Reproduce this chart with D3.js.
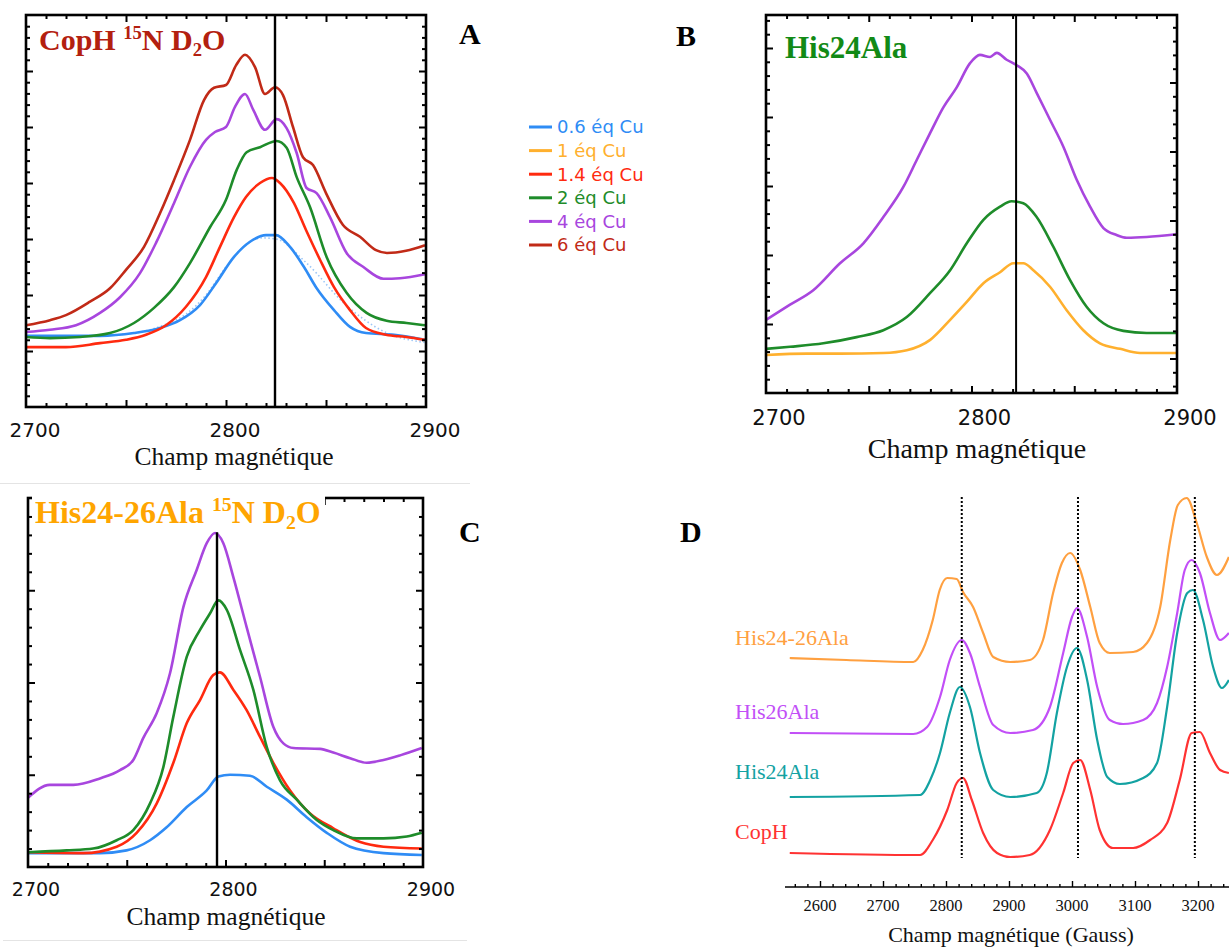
<!DOCTYPE html>
<html><head><meta charset="utf-8">
<script src="https://cdn.jsdelivr.net/npm/d3@7"></script>
<style>body{margin:0;background:#fff}svg{display:block}</style>
</head><body>
<svg id="c" width="1229" height="947"></svg>
<script>
// ---------- DATA ----------
const legendLabels = ["0.6 éq Cu","1 éq Cu","1.4 éq Cu","2 éq Cu","4 éq Cu","6 éq Cu"];
const legendColors = ["#2f8cf5","#ffb02e","#ff2a0f","#1e8c2a","#a846de","#c12a17"];

// Panel A : CopH 15N D2O (field G, intensity a.u.)
const A_eq6 = [[2700,1.46],[2712,1.55],[2720,1.64],[2732,1.88],[2742,2.12],[2750,2.45],[2759,2.86],[2767,3.46],[2774,4.05],[2782,4.77],[2789,5.48],[2794,5.7],[2800,5.75],[2805,6.1],[2809.5,6.29],[2814.5,6.07],[2819.5,5.59],[2824.5,5.71],[2828.5,5.57],[2833.5,5.0],[2838.5,4.46],[2843.5,4.32],[2850,3.82],[2858.5,3.25],[2867,3.04],[2875,2.8],[2880.5,2.75],[2890,2.79],[2899.5,2.89]];
const A_eq4 = [[2700,1.34],[2712,1.38],[2725,1.46],[2737,1.68],[2747,1.96],[2757,2.39],[2765,2.93],[2774,3.64],[2782,4.29],[2790,4.77],[2794.5,4.91],[2800,5.0],[2804.5,5.36],[2809.5,5.59],[2813.7,5.3],[2819.5,4.95],[2825.3,5.14],[2830.3,4.98],[2835.3,4.54],[2840.3,3.91],[2845.3,3.82],[2852,3.39],[2860.3,2.75],[2868.7,2.5],[2878.7,2.29],[2887,2.3],[2899.5,2.37]];
const A_eq2 = [[2700,1.25],[2712,1.23],[2727,1.25],[2742,1.32],[2754,1.5],[2764,1.77],[2774,2.14],[2782,2.57],[2792,3.21],[2800,3.7],[2805.3,4.23],[2810.3,4.55],[2817,4.64],[2825.3,4.75],[2830.3,4.63],[2835.3,4.11],[2842,3.57],[2850.3,2.68],[2860.3,2.04],[2870.3,1.68],[2880.3,1.54],[2890.3,1.5],[2899.5,1.46]];
const A_eq14 = [[2700,1.07],[2720,1.07],[2737,1.14],[2750,1.2],[2760,1.29],[2770,1.46],[2780,1.79],[2790,2.32],[2797,2.86],[2804,3.39],[2810,3.75],[2817,4.0],[2823,4.09],[2827,4.0],[2834,3.64],[2840,3.16],[2847,2.63],[2854,2.14],[2862,1.73],[2870,1.41],[2880,1.29],[2890,1.25],[2899.5,1.2]];
const A_eq06 = [[2700,1.27],[2720,1.27],[2737,1.27],[2754,1.32],[2767,1.41],[2777,1.55],[2787,1.82],[2795,2.21],[2804,2.68],[2812,2.95],[2820,3.07],[2825,3.07],[2832,2.86],[2839,2.5],[2845,2.14],[2854,1.73],[2862,1.43],[2870,1.32],[2884,1.29],[2899.5,1.2]];
const A_eq06b = [[2700,1.25],[2740,1.28],[2760,1.36],[2770,1.48],[2780,1.66],[2790,2.0],[2800,2.5],[2810,2.9],[2818,3.02],[2825,3.0],[2840,2.58],[2860,1.82],[2880,1.33],[2900,1.15]];
const A_line = 2824.5;

// Panel B : His24Ala
const B_eq4 = [[2700,1.06],[2711.7,1.28],[2723,1.49],[2736,1.88],[2747.4,2.17],[2757.1,2.55],[2766.9,2.99],[2773.4,3.38],[2779.9,3.77],[2786.3,4.14],[2792.8,4.43],[2799.3,4.78],[2804.1,4.9],[2809,4.87],[2812.3,4.93],[2817.1,4.83],[2822,4.75],[2826.9,4.63],[2831.7,4.35],[2838.2,3.96],[2844.7,3.57],[2851.2,3.09],[2857.7,2.7],[2864.2,2.39],[2870.6,2.29],[2875.5,2.25],[2885.2,2.26],[2899.8,2.3]];
const B_eq2 = [[2700,0.64],[2711.7,0.67],[2727.9,0.72],[2744.1,0.81],[2757.1,0.91],[2768.5,1.1],[2779.9,1.45],[2789.6,1.78],[2797.7,2.17],[2805.8,2.51],[2813.9,2.7],[2819.5,2.78],[2825.2,2.75],[2831.7,2.55],[2839.8,2.12],[2847.9,1.64],[2856,1.25],[2864.2,1.01],[2873.9,0.9],[2885.2,0.87],[2899.8,0.87]];
const B_eq1 = [[2700,0.55],[2719.8,0.57],[2736,0.57],[2757.1,0.58],[2768.5,0.62],[2779.9,0.77],[2789.6,1.06],[2797.7,1.32],[2805.8,1.59],[2813.9,1.75],[2820.4,1.88],[2825.2,1.88],[2830.1,1.78],[2838.2,1.54],[2846.3,1.2],[2854.4,0.91],[2862.5,0.72],[2872.3,0.64],[2882,0.58],[2899.8,0.58]];
const B_line = 2821.7;

// Panel C : His24-26Ala 15N D2O
const C_eq4 = [[2700,0.75],[2711,0.89],[2723,0.89],[2736.4,0.96],[2746.6,1.05],[2753.3,1.16],[2758.4,1.4],[2765.2,1.67],[2771.9,2.1],[2778.7,2.82],[2785.4,3.22],[2790.5,3.51],[2794.7,3.62],[2798.9,3.51],[2804,3.14],[2810.7,2.6],[2817.5,2.06],[2824.2,1.52],[2829.3,1.34],[2834.4,1.29],[2847.9,1.28],[2854.6,1.24],[2863.1,1.18],[2871.5,1.13],[2880,1.16],[2888.4,1.21],[2899.4,1.29]];
const C_eq2 = [[2700,0.16],[2719.6,0.18],[2733,0.2],[2744.9,0.29],[2753.3,0.4],[2761.8,0.69],[2768.5,1.08],[2773.6,1.63],[2780.4,2.28],[2787.1,2.57],[2792.2,2.75],[2796.4,2.89],[2800.6,2.79],[2807.4,2.35],[2814.1,1.92],[2820.9,1.3],[2827.6,0.94],[2836.1,0.73],[2846.2,0.51],[2854.6,0.4],[2866.5,0.31],[2880,0.31],[2891.8,0.33],[2899.4,0.37]];
const C_eq14 = [[2700,0.16],[2728,0.15],[2744.9,0.22],[2755,0.37],[2765.2,0.69],[2773.6,1.13],[2780.4,1.56],[2787.1,1.81],[2793.8,2.08],[2797.2,2.11],[2804,1.92],[2810.7,1.7],[2817.5,1.41],[2824.2,1.13],[2832.7,0.83],[2842.8,0.58],[2854.6,0.42],[2868.2,0.27],[2880,0.22],[2899.4,0.2]];
const C_eq06 = [[2700,0.15],[2736.4,0.15],[2749.9,0.18],[2761.8,0.29],[2770.2,0.43],[2780.4,0.65],[2790.5,0.83],[2796.4,0.98],[2802.3,1.0],[2812.4,0.99],[2820.9,0.87],[2831,0.73],[2841.1,0.54],[2851.3,0.37],[2863.1,0.22],[2880,0.15],[2899.4,0.13]];
const C_line = 2795.7;

// Panel D : stacked spectra
const D_names = ["His24-26Ala","His26Ala","His24Ala","CopH"];
const D_colors = ["#ffa040","#c24ff7","#13a2a2","#ff3232"];
const D_his2426 = [[2552,53],[2642,52.5],[2748,52],[2763,55],[2779,62.5],[2790,70],[2802,73],[2817,72.75],[2827,69.5],[2843,65.75],[2859,59.25],[2875,53.25],[2902,52],[2933,52.5],[2954,57.5],[2970,69.25],[2984,76.75],[2997,79.25],[3013,75],[3029,65.75],[3044,56.75],[3060,54.25],[3097,54.5],[3119,56.75],[3140,65.75],[3156,82.5],[3168,91.25],[3182,93],[3198,86.75],[3214,78.25],[3230,73.75],[3249,78.25]];
const D_his26 = [[2552,34.25],[2748,34],[2770,35.75],[2790.5,43.25],[2806,52.5],[2825,57.5],[2838,54.25],[2854,45.75],[2875,36.25],[2902,34.25],[2938,35],[2965,40.75],[2986,54.25],[3000,63.25],[3008,65.5],[3024,58.25],[3040,45.75],[3060,37.5],[3081,36.5],[3113,37.5],[3135,41.75],[3151,50.75],[3167,64.25],[3179,75],[3190,77.5],[3203,74.25],[3219,64.25],[3235,57.5],[3249,59.25]];
const D_his24 = [[2552,18.25],[2759,18.75],[2775,22.5],[2790.5,29.25],[2806,39.25],[2822,45.75],[2838,40.75],[2854,29.25],[2875,20],[2902,18.25],[2944,19.25],[2960,24.25],[2976,39.25],[2992,50.75],[3008,55.5],[3024,47.5],[3040,32.5],[3056,23.25],[3076,21.5],[3113,23],[3135,26.75],[3151,40.75],[3167,59.25],[3183,69.25],[3192,70],[3208,62.5],[3224,50.75],[3238,45.5],[3249,47.5]];
const D_coph = [[2552,4.25],[2759,3.75],[2779,7.5],[2802,15],[2817,21.75],[2827,23],[2841,17.5],[2859,9.25],[2881,4.25],[2902,3.25],[2933,3.75],[2965,10],[2986,19.25],[3002,26.75],[3013,27.5],[3029,20],[3044,10],[3065,5.5],[3097,5.5],[3124,7.5],[3151,11.75],[3171,22.5],[3190,34.25],[3203,34.5],[3219,29.25],[3235,25],[3249,24.25]];
const D_lines = [2825, 3009.5, 3195];
const D_ticks = [2600,2700,2800,2900,3000,3100,3200];

const xTickLabels = [2700,2800,2900];

// ---------- DRAW ----------
const svg = d3.select("#c");
const serif = "'Liberation Serif','Times New Roman',serif";
const sans = "'DejaVu Sans',sans-serif";

// faint separators
svg.append("line").attr("x1",0).attr("x2",470).attr("y1",483.5).attr("y2",483.5).attr("stroke","#e4e4e4");
svg.append("line").attr("x1",3).attr("x2",467).attr("y1",940.5).attr("y2",940.5).attr("stroke","#e4e4e4");

function panel(cfg){
  const x = d3.scaleLinear().domain([2700,2900]).range([cfg.x0,cfg.x1]);
  const y = d3.scaleLinear().domain([0,cfg.ymax]).range([cfg.y0,cfg.y1]);
  const g = svg.append("g");
  const line = d3.line().x(d=>x(d[0])).y(d=>y(d[1])).curve(d3.curveMonotoneX);
  cfg.series.forEach(s=>{
    g.append("path").datum(s.data).attr("d",line).attr("fill","none")
      .attr("stroke",s.color).attr("stroke-width",s.w||2.6)
      .attr("stroke-dasharray",s.dash||null).attr("stroke-linejoin","round");
  });
  const maj = [2750,2800,2850], mn = d3.range(2710,2900,10).filter(v=>!maj.includes(v));
  const ax = (gen, tv, sz, tr) => {
    const a = g.append("g").attr("transform",tr).call(gen.tickValues(tv).tickSize(sz).tickFormat(""));
    a.select(".domain").remove();
    a.selectAll("line").attr("stroke","#000").attr("stroke-width",2);
  };
  ax(d3.axisBottom(x), maj, -7, `translate(0,${cfg.y0})`);
  ax(d3.axisBottom(x), mn, -4, `translate(0,${cfg.y0})`);
  ax(d3.axisTop(x), maj, -7, `translate(0,${cfg.y1})`);
  ax(d3.axisTop(x), mn, -4, `translate(0,${cfg.y1})`);
  ax(d3.axisLeft(y), cfg.lMaj, -7, `translate(${cfg.x0},0)`);
  ax(d3.axisLeft(y), cfg.lMin, -4, `translate(${cfg.x0},0)`);
  ax(d3.axisRight(y), cfg.rMaj, -7, `translate(${cfg.x1},0)`);
  ax(d3.axisRight(y), cfg.rMin, -4, `translate(${cfg.x1},0)`);
  g.append("rect").attr("x",cfg.x0).attr("y",cfg.y1).attr("width",cfg.x1-cfg.x0).attr("height",cfg.y0-cfg.y1)
    .attr("fill","none").attr("stroke","#000").attr("stroke-width",2.6);
  if(cfg.mask){
    g.append("rect").attr("x",cfg.mask[0]).attr("y",cfg.mask[1]).attr("width",cfg.mask[2]).attr("height",cfg.mask[3]).attr("fill","#fff");
  }
  g.append("line").attr("x1",x(cfg.vline)).attr("x2",x(cfg.vline))
    .attr("y1",y(cfg.vtop)).attr("y2",cfg.y0).attr("stroke","#000").attr("stroke-width",cfg.vw||2.4);
  xTickLabels.forEach(v=>{
    g.append("text").attr("x",x(v)+cfg.lblDx).attr("y",cfg.lblY).attr("text-anchor","middle")
      .attr("font-family",sans).attr("font-size",cfg.lblSize).attr("fill","#111").text(v);
  });
  g.append("text").attr("x",cfg.titleX).attr("y",cfg.titleY).attr("text-anchor","middle")
    .attr("font-family",serif).attr("font-size",cfg.titleSize).attr("fill","#111").text("Champ magnétique");
  // panel title (superscript / subscript via explicit dy shifts)
  const t = g.append("text").attr("x",cfg.hx).attr("y",cfg.hy).attr("font-family",serif)
    .attr("font-weight","bold").attr("font-size",cfg.hs).attr("fill",cfg.hc);
  const up = cfg.hs*0.38, down = cfg.hs*0.2;
  let cur = 0;
  cfg.head.forEach(p=>{
    const target = p.sup ? -up : (p.sub ? down : 0);
    const ts = t.append("tspan").attr("dy",target-cur).text(p.t);
    cur = target;
    if(p.sup || p.sub) ts.attr("font-size",cfg.hs*0.62);
  });
  svg.append("text").attr("x",cfg.lx).attr("y",cfg.ly).attr("font-family",serif).attr("font-weight","bold")
    .attr("font-size",30).attr("fill","#000").text(cfg.letter);
}

const r = (a,b,s)=>d3.range(a,b+1e-9,s).map(v=>+v.toFixed(2));
const minorsOf = (lo,hi,step,maj)=>r(lo,hi,step).filter(v=>!maj.some(m=>Math.abs(m-v)<1e-6));

// Panel A
panel({x0:26,x1:426,y0:407,y1:15,ymax:7,
  lMaj:[1,2,3,4,5,6], lMin:minorsOf(0.2,6.8,0.2,[1,2,3,4,5,6]),
  rMaj:[1,2,3,4,5,6], rMin:minorsOf(0.2,6.8,0.2,[1,2,3,4,5,6]),
  series:[
    {data:A_eq06b,color:"#9cc6f6",w:1.6,dash:"1.5,2.5"},
    {data:A_eq06,color:legendColors[0]},
    {data:A_eq14,color:legendColors[2]},
    {data:A_eq2,color:legendColors[3]},
    {data:A_eq4,color:legendColors[4]},
    {data:A_eq6,color:legendColors[5]}],
  vline:A_line, vtop:7, lblDx:9, lblY:437, lblSize:20, titleX:234, titleY:465, titleSize:25.5,
  hx:39, hy:50, hs:30, hc:"#b3200f",
  head:[{t:"CopH "},{t:"15",sup:true},{t:"N D"},{t:"2",sub:true},{t:"O"}],
  lx:459, ly:44, letter:"A"});

// Panel B
panel({x0:766,x1:1177,y0:393,y1:15,ymax:378/69,
  lMaj:[1,2,3,4,5], lMin:minorsOf(0.2,5.4,0.2,[1,2,3,4,5]),
  rMaj:[0.5,1.5,2.5,3.5,4.5], rMin:minorsOf(0.1,5.3,0.2,[0.5,1.5,2.5,3.5,4.5]),
  series:[
    {data:B_eq1,color:legendColors[1]},
    {data:B_eq2,color:legendColors[3]},
    {data:B_eq4,color:legendColors[4]}],
  vline:B_line, vtop:378/69, vw:2, lblDx:13, lblY:425, lblSize:21, titleX:977, titleY:458, titleSize:28,
  hx:785, hy:58, hs:31, hc:"#128a16",
  head:[{t:"His24Ala"}],
  lx:676, ly:46, letter:"B"});

// Panel C
panel({x0:28,x1:423,y0:867,y1:498,ymax:4,
  lMaj:[1,2,3], lMin:minorsOf(0.2,3.8,0.2,[1,2,3]),
  rMaj:[1,2,3], rMin:minorsOf(0.2,3.8,0.2,[1,2,3]),
  series:[
    {data:C_eq06,color:legendColors[0]},
    {data:C_eq14,color:legendColors[2]},
    {data:C_eq2,color:legendColors[3]},
    {data:C_eq4,color:legendColors[4]}],
  mask:[32,486,293,44],
  vline:C_line, vtop:3.63, lblDx:8, lblY:896, lblSize:19, titleX:226, titleY:925, titleSize:25.5,
  hx:35, hy:523, hs:32, hc:"#ffa500",
  head:[{t:"His24-26Ala "},{t:"15",sup:true},{t:"N D"},{t:"2",sub:true},{t:"O"}],
  lx:459, ly:542, letter:"C"});

// Legend
const lg = svg.append("g");
legendLabels.forEach((l,i)=>{
  const yy = 127 + i*23.6;
  lg.append("line").attr("x1",529).attr("x2",552).attr("y1",yy).attr("y2",yy)
    .attr("stroke",legendColors[i]).attr("stroke-width",3);
  lg.append("text").attr("x",557).attr("y",yy).attr("dy","0.36em").attr("font-family",sans)
    .attr("font-size",18).attr("fill",legendColors[i]).text(l);
});

// Panel D
const xD = d3.scaleLinear().domain([2600,3200]).range([820,1198]);
const yD = d3.scaleLinear().domain([0,100]).range([870,470]);
const gD = svg.append("g");
const lineD = d3.line().x(d=>xD(d[0])).y(d=>yD(d[1])).curve(d3.curveMonotoneX);
[D_his2426,D_his26,D_his24,D_coph].forEach((s,i)=>{
  gD.append("path").datum(s).attr("d",lineD).attr("fill","none").attr("stroke",D_colors[i]).attr("stroke-width",2.2);
});
D_lines.forEach(v=>{
  gD.append("line").attr("x1",xD(v)).attr("x2",xD(v)).attr("y1",yD(93.25)).attr("y2",yD(3))
    .attr("stroke","#000").attr("stroke-width",2).attr("stroke-dasharray","2,2");
});
const labY = [645,719,779,839];
D_names.forEach((n,i)=>{
  gD.append("text").attr("x",735).attr("y",labY[i]).attr("font-family",serif).attr("font-size",22)
    .attr("fill",D_colors[i]).text(n);
});
const axD = gD.append("g").attr("transform","translate(0,887)")
  .call(d3.axisBottom(xD).tickValues(D_ticks).tickSize(-6).tickFormat(""));
axD.select(".domain").remove();
const axDm = gD.append("g").attr("transform","translate(0,887)")
  .call(d3.axisBottom(xD).tickValues(r(2560,3240,20).filter(v=>v%100!==0)).tickSize(-3).tickFormat(""));
axDm.select(".domain").remove();
gD.selectAll(".tick line").attr("stroke","#000").attr("stroke-width",1.4);
gD.append("line").attr("x1",785).attr("x2",1229).attr("y1",887).attr("y2",887).attr("stroke","#000").attr("stroke-width",1.6);
D_ticks.forEach(v=>{
  gD.append("text").attr("x",xD(v)).attr("y",911).attr("text-anchor","middle").attr("font-family",serif)
    .attr("font-size",16.5).attr("fill","#111").text(v);
});
gD.append("text").attr("x",1011).attr("y",942).attr("text-anchor","middle").attr("font-family",serif)
  .attr("font-size",22).attr("fill","#111").text("Champ magnétique (Gauss)");
svg.append("text").attr("x",680).attr("y",542).attr("font-family",serif).attr("font-weight","bold")
  .attr("font-size",30).attr("fill","#000").text("D");
</script>
</body></html>
